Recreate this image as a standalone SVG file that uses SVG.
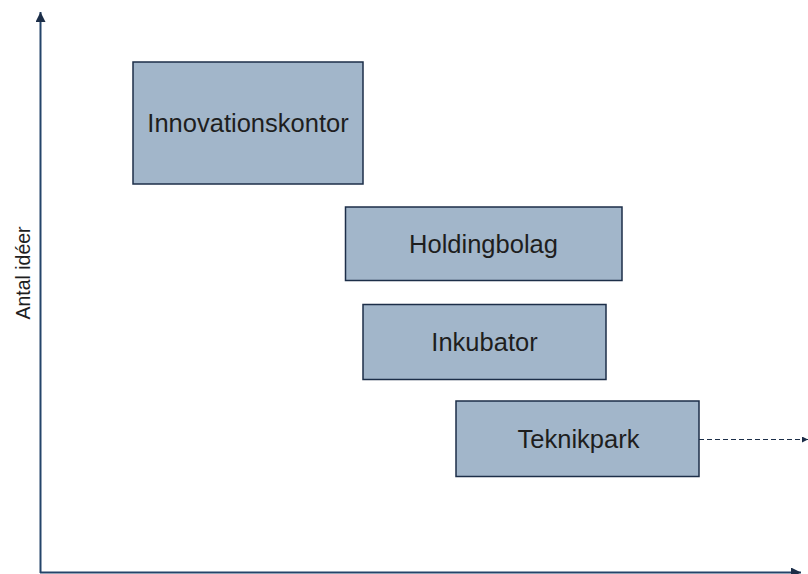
<svg xmlns="http://www.w3.org/2000/svg" width="808" height="574" viewBox="0 0 808 574">
  <defs>
    <style>
      .box { fill: #A2B6CA; stroke: #1C2E48; stroke-width: 1.5; }
      .lbl { font-family: "Liberation Sans", Arial, sans-serif; font-size: 25.5px; fill: #1E1E1E; text-anchor: middle; }
      .ylbl { font-family: "Liberation Sans", Arial, sans-serif; font-size: 19.5px; fill: #1E1E1E; text-anchor: middle; }
      .axis { stroke: #24446A; stroke-width: 2; fill: none; }
      .dash { stroke: #1C2E48; stroke-width: 1.2; stroke-dasharray: 5 3; fill: none; }
    </style>
    <marker id="ah" markerWidth="10" markerHeight="10" refX="10" refY="5" orient="auto" markerUnits="userSpaceOnUse">
      <path d="M0,0 L10,5 L0,10 Z" fill="#1C2E48"/>
    </marker>
    <marker id="ahs" markerWidth="6" markerHeight="6" refX="6" refY="3" orient="auto" markerUnits="userSpaceOnUse">
      <path d="M0,0 L6,3 L0,6 Z" fill="#1C2E48"/>
    </marker>
  </defs>
  <rect width="808" height="574" fill="#FFFFFF"/>
  <g id="connectors">
    <line class="axis" x1="40.5" y1="573" x2="40.5" y2="12" marker-end="url(#ah)"/>
    <line class="axis" x1="40" y1="572.5" x2="801" y2="572.5" marker-end="url(#ah)"/>
    <line class="dash" x1="699" y1="439.5" x2="808" y2="439.5" marker-end="url(#ahs)"/>
  </g>
  <g id="y-label">
    <text class="ylbl" transform="translate(29.5,273) rotate(-90)">Antal idéer</text>
  </g>
  <g id="node-innovationskontor">
    <rect class="box" x="133" y="62" width="230" height="122"/>
    <text class="lbl" x="248" y="132">Innovationskontor</text>
  </g>
  <g id="node-holdingbolag">
    <rect class="box" x="345.5" y="207" width="276.5" height="73.5"/>
    <text class="lbl" x="483.5" y="252.8">Holdingbolag</text>
  </g>
  <g id="node-inkubator">
    <rect class="box" x="363" y="304.5" width="243" height="75"/>
    <text class="lbl" x="484.5" y="350.8">Inkubator</text>
  </g>
  <g id="node-teknikpark">
    <rect class="box" x="456" y="401" width="243" height="75.5"/>
    <text class="lbl" x="578.5" y="447.8">Teknikpark</text>
  </g>
</svg>
